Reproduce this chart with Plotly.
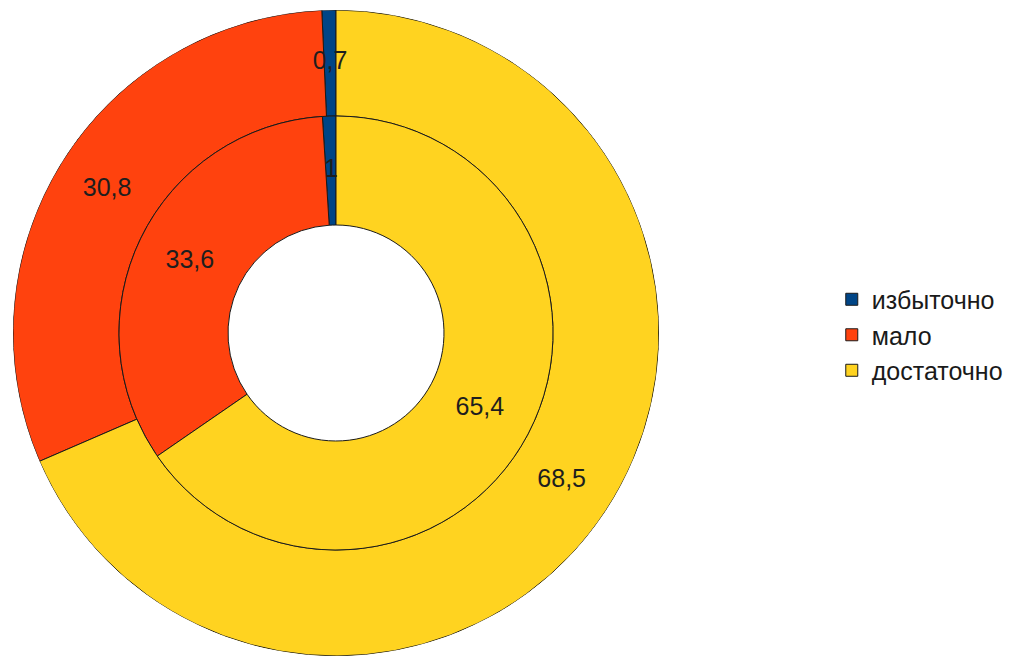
import plotly.graph_objects as go

categories = ["избыточно", "мало", "достаточно"]
outer_values = [0.7, 30.8, 68.5]
inner_values = [1, 33.6, 65.4]
colors = ["#004586", "#ff420e", "#ffd320"]

W, H = 1017, 658
OFF = 8  # default body margin of the html page
cx, cy = 336 - OFF, 333 - OFF
r_out, r_mid, r_hole = 323, 217, 108


def fmt(v):
    return ("%g" % v).replace(".", ",")


def angles(values):
    total = sum(values)
    mids, widths, start = [], [], 0.0
    for v in values:
        w = v / total * 360.0
        mids.append(start + w / 2)
        widths.append(w)
        start += w
    return mids, widths


o_mid, o_w = angles(outer_values)
i_mid, i_w = angles(inner_values)

fig = go.Figure()
for k, name in enumerate(categories):
    fig.add_trace(go.Barpolar(
        name=name,
        theta=[o_mid[k], i_mid[k]],
        width=[o_w[k], i_w[k]],
        base=[r_mid, r_hole],
        r=[r_out - r_mid, r_mid - r_hole],
        marker=dict(color=colors[k], line=dict(color="#1a1a1a", width=1)),
        hovertext=[fmt(outer_values[k]), fmt(inner_values[k])],
        hoverinfo="name+text",
    ))

fig.add_trace(go.Scatterpolar(
    theta=o_mid + i_mid,
    r=[(r_out + r_mid) / 2] * len(o_mid) + [(r_mid + r_hole) / 2] * len(i_mid),
    text=[fmt(v) for v in outer_values] + [fmt(v) for v in inner_values],
    mode="text",
    textfont=dict(family="Liberation Sans", size=25, color="#1e1e1e"),
    showlegend=False, hoverinfo="skip",
))

fig.update_layout(
    width=W, height=H, margin=dict(l=0, r=0, t=0, b=0),
    paper_bgcolor="white",
    polar=dict(
        domain=dict(x=[(cx - r_out) / W, (cx + r_out) / W],
                    y=[(H - cy - r_out) / H, (H - cy + r_out) / H]),
        bgcolor="rgba(0,0,0,0)", hole=0,
        radialaxis=dict(range=[0, r_out], visible=False, showgrid=False),
        angularaxis=dict(rotation=90, direction="counterclockwise", visible=False, showgrid=False),
    ),
    legend=dict(x=0.81, y=0.503, xanchor="left", yanchor="middle",
                font=dict(family="Liberation Sans", size=25, color="#1a1a1a"),
                itemwidth=30, tracegroupgap=0, bgcolor="rgba(0,0,0,0)"),
)
fig.write_html("out.html")
